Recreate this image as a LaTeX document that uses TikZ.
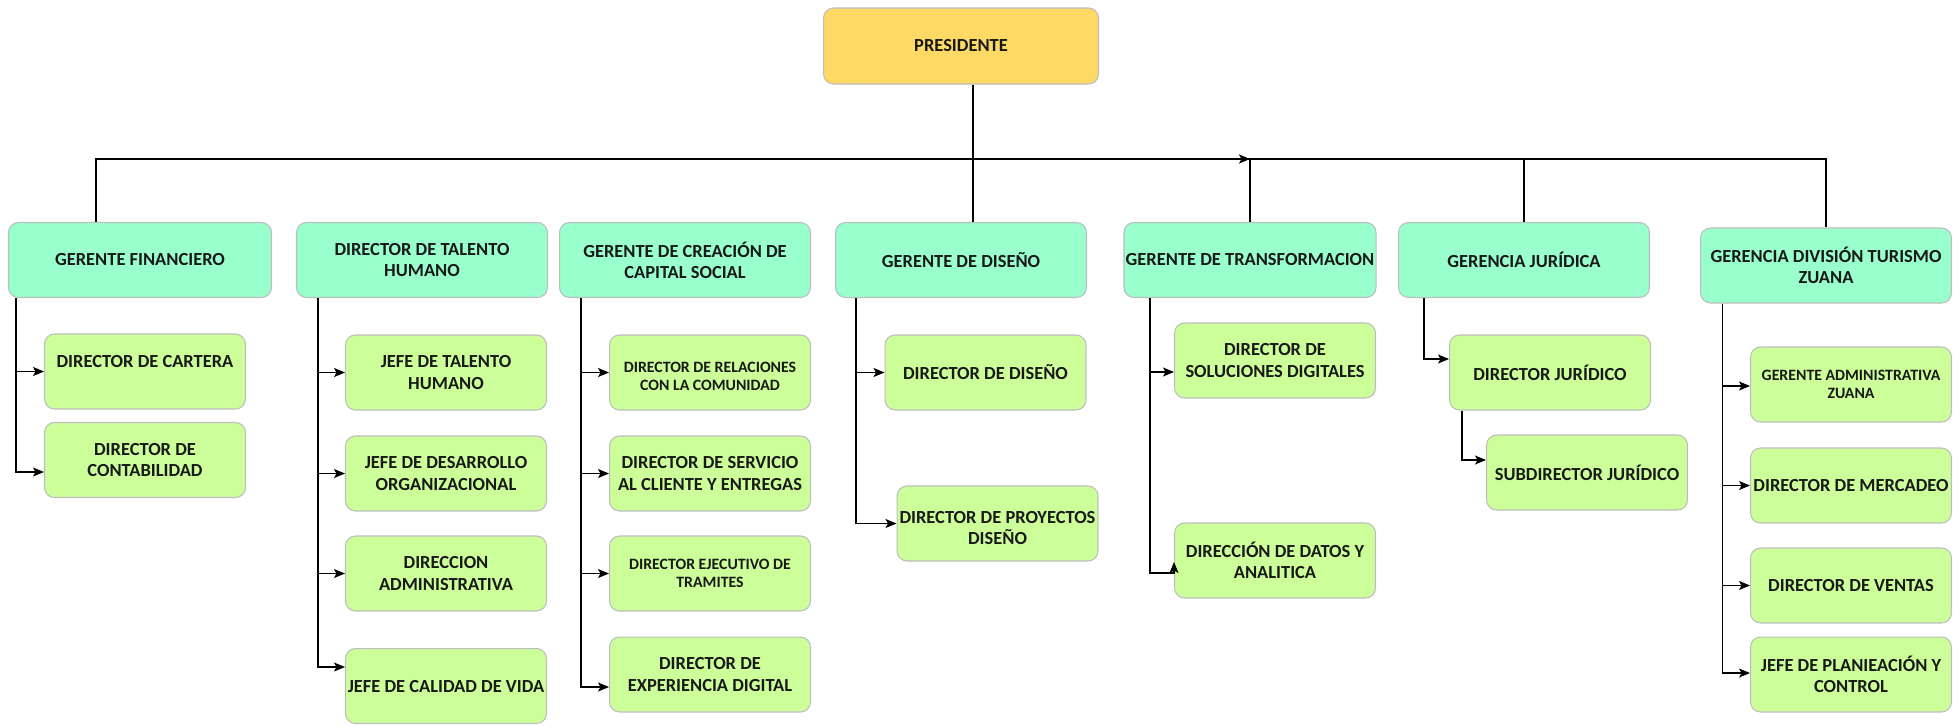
\documentclass[tikz,border=0pt]{standalone}
\usepackage{fontspec}
\setmainfont{Carlito}
\usetikzlibrary{arrows.meta}
\definecolor{presfill}{HTML}{FFD966}
\definecolor{gerfill}{HTML}{99FFCC}
\definecolor{dirfill}{HTML}{CCFF99}
\definecolor{borde}{HTML}{BDBDBD}
\begin{document}
\begin{tikzpicture}[x=0.02cm, y=-0.02cm, line width=0.6pt,
		caja/.style={rectangle, rounded corners=0.2cm, draw=borde, align=center, text=black!90, font=\bfseries\fontsize{10.5}{12}\selectfont, minimum height=1.5cm, inner sep=1pt},
		pres/.style={caja, fill=presfill, minimum width=5.5cm, minimum height=1.52cm},
		gerencia/.style={caja, fill=gerfill, minimum width=5.02cm},
		cargo/.style={caja, fill=dirfill, minimum width=4.02cm},
		chico/.style={font=\bfseries\fontsize{9}{10.5}\selectfont},
		flecha/.style={-{Stealth[length=0.22cm, width=0.18cm, inset=0.05cm]}}
		]
	\useasboundingbox (0,0) rectangle (1959,725);

	\node [pres] (presidente) at (961,46) {PRESIDENTE};

	\node [gerencia, minimum width=5.26cm] (fin) at (140,260) {GERENTE FINANCIERO};
	\node [gerencia] (talento) at (422,260) {DIRECTOR DE TALENTO\\HUMANO};
	\node [gerencia] (social) at (685,260) {GERENTE DE CREACIÓN DE\\CAPITAL SOCIAL};
	\node [gerencia] (diseno) at (961,260) {GERENTE DE DISEÑO};
	\node [gerencia] (transf) at (1250,260) {GERENTE DE TRANSFORMACION};
	\node [gerencia] (juridica) at (1524,260) {GERENCIA JURÍDICA};
	\node [gerencia] (zuana) at (1826,265.5) {GERENCIA DIVISIÓN TURISMO\\ZUANA};

	\node [cargo] (cartera) at (145,371.5) {DIRECTOR DE CARTERA\\~};
	\node [cargo] (contab) at (145,460) {DIRECTOR DE\\CONTABILIDAD};
	\node [cargo] (jth) at (446,372.5) {JEFE DE TALENTO\\HUMANO};
	\node [cargo] (jdo) at (446,473.5) {JEFE DE DESARROLLO\\ORGANIZACIONAL};
	\node [cargo] (dadm) at (446,573.5) {DIRECCION\\ADMINISTRATIVA};
	\node [cargo] (jcv) at (446,686) {JEFE DE CALIDAD DE VIDA};
	\node [cargo, chico] (drel) at (710,372.5) {~\\DIRECTOR DE RELACIONES\\CON LA COMUNIDAD};
	\node [cargo] (dserv) at (710,473.5) {DIRECTOR DE SERVICIO\\AL CLIENTE Y ENTREGAS};
	\node [cargo, chico] (dtram) at (710,573.5) {DIRECTOR EJECUTIVO DE\\TRAMITES};
	\node [cargo] (dexp) at (710,674.5) {DIRECTOR DE\\EXPERIENCIA DIGITAL};
	\node [cargo] (ddis) at (985.5,372.5) {DIRECTOR DE DISEÑO};
	\node [cargo] (dproy) at (997.5,523.5) {~\\DIRECTOR DE PROYECTOS\\DISEÑO};
	\node [cargo] (dsol) at (1275,360.5) {DIRECTOR DE\\SOLUCIONES DIGITALES};
	\node [cargo] (ddat) at (1275,560.5) {DIRECCIÓN DE DATOS Y\\ANALITICA};
	\node [cargo] (djur) at (1550,372.5) {DIRECTOR JURÍDICO};
	\node [cargo] (dsub) at (1587,472.5) {SUBDIRECTOR JURÍDICO};
	\node [cargo, chico] (gadm) at (1851,384.5) {GERENTE ADMINISTRATIVA\\ZUANA};
	\node [cargo] (dmer) at (1851,485.5) {DIRECTOR DE MERCADEO};
	\node [cargo] (dven) at (1851,585.5) {DIRECTOR DE VENTAS};
	\node [cargo] (jpc) at (1851,674.5) {JEFE DE PLANIEACIÓN Y\\CONTROL};

	\coordinate (bus) at (973,159);
	\draw [line width=1pt] (fin.north -| 96,0) |- (bus) -| (zuana.north);
	\draw [line width=1pt, flecha] (bus) -- (transf.north |- bus);
	\draw (transf.north |- bus) -- (transf.north);
	\draw (juridica.north |- bus) -- (juridica.north);
	\draw (presidente.south -| bus) -- (diseno.north -| bus);

	\draw [flecha] (fin.south -| 16,0) |- (cartera.west);
	\draw [flecha] (fin.south -| 16,0) |- (contab.west |- 0,472);

	\draw [flecha] (talento.south -| 318,0) |- (jth.west);
	\draw [flecha] (talento.south -| 318,0) |- (jdo.west);
	\draw [flecha] (talento.south -| 318,0) |- (dadm.west);
	\draw [flecha] (talento.south -| 318,0) |- (jcv.west |- 0,667);

	\draw [flecha] (social.south -| 581,0) |- (drel.west);
	\draw [flecha] (social.south -| 581,0) |- (dserv.west);
	\draw [flecha] (social.south -| 581,0) |- (dtram.west);
	\draw [flecha] (social.south -| 581,0) |- (dexp.west |- 0,687);

	\draw [flecha] (diseno.south -| 856,0) |- (ddis.west);
	\draw [flecha] (diseno.south -| 856,0) |- (dproy.west);

	\draw [flecha] (transf.south -| 1150,0) |- (dsol.west |- 0,372);
	\draw [flecha] (transf.south -| 1150,0) |- (ddat.west |- 0,573) -- (ddat.west |- 0,562);

	\draw [flecha] (juridica.south -| 1424,0) |- (djur.west |- 0,359);
	\draw [flecha] (djur.south -| 1462,0) |- (dsub.west |- 0,460);

	\draw [flecha] (zuana.south -| 1722,0) |- (gadm.west |- 0,386);
	\draw [flecha] (zuana.south -| 1722,0) |- (dmer.west);
	\draw [flecha] (zuana.south -| 1722,0) |- (dven.west);
	\draw [flecha] (zuana.south -| 1722,0) |- (jpc.west |- 0,673);
\end{tikzpicture}
\end{document}
